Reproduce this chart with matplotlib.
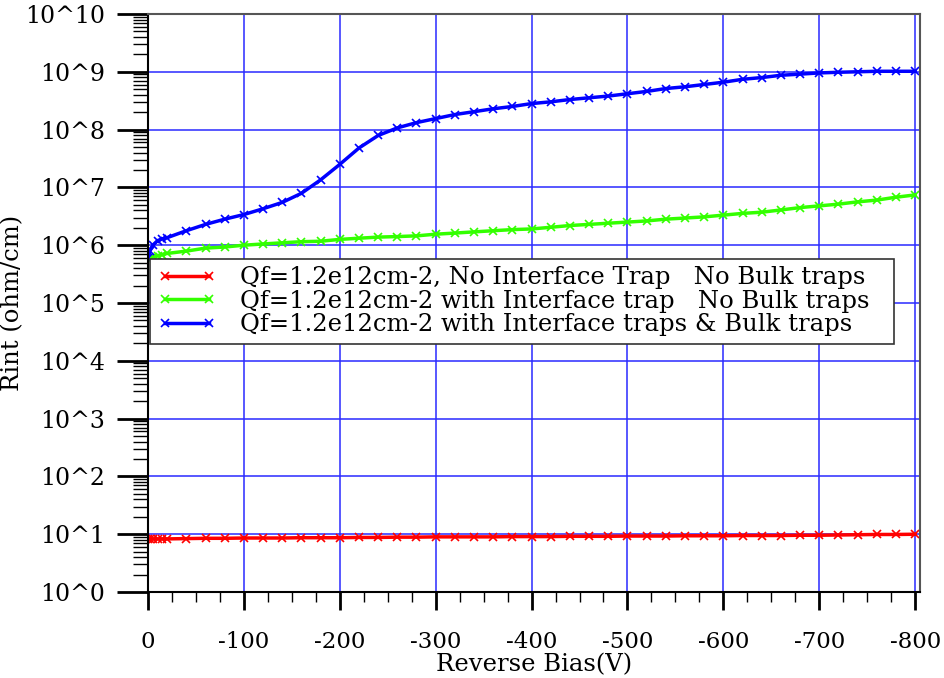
import matplotlib
matplotlib.use("Agg")
import matplotlib.pyplot as plt
from matplotlib.ticker import FixedLocator, MultipleLocator, LogLocator, NullFormatter

# reverse bias (V)
bias = [0, -2, -5, -10, -15, -20, -40, -60, -80, -100, -120, -140, -160, -180, -200,
        -220, -240, -260, -280, -300, -320, -340, -360, -380, -400, -420, -440, -460,
        -480, -500, -520, -540, -560, -580, -600, -620, -640, -660, -680, -700, -720,
        -740, -760, -780, -800]

# Rint (ohm/cm)
rint_no_traps = [8.2, 8.2, 8.3, 8.3, 8.3, 8.3, 8.4, 8.5, 8.5, 8.6, 8.6, 8.6, 8.7, 8.7, 8.7,
                 8.8, 8.8, 8.9, 8.9, 9.0, 9.0, 9.0, 9.0, 9.1, 9.1, 9.1, 9.2, 9.2, 9.2, 9.3,
                 9.3, 9.3, 9.4, 9.4, 9.4, 9.5, 9.5, 9.5, 9.6, 9.6, 9.7, 9.8, 9.9, 9.9, 10.0]
rint_interface = [5.75e5, 6.0e5, 6.3e5, 6.6e5, 6.9e5, 7.2e5, 7.9e5, 8.9e5, 9.3e5, 1.0e6,
                  1.05e6, 1.10e6, 1.15e6, 1.17e6, 1.26e6, 1.32e6, 1.38e6, 1.41e6, 1.45e6,
                  1.55e6, 1.62e6, 1.70e6, 1.78e6, 1.86e6, 1.91e6, 2.04e6, 2.19e6, 2.29e6,
                  2.40e6, 2.51e6, 2.63e6, 2.82e6, 2.95e6, 3.09e6, 3.31e6, 3.55e6, 3.72e6,
                  4.07e6, 4.47e6, 4.79e6, 5.13e6, 5.62e6, 6.03e6, 6.76e6, 7.41e6]
rint_bulk = [6.0e5, 7.9e5, 1.0e6, 1.2e6, 1.29e6, 1.35e6, 1.78e6, 2.29e6, 2.82e6, 3.39e6,
             4.27e6, 5.5e6, 7.9e6, 1.35e7, 2.5e7, 4.8e7, 7.9e7, 1.07e8, 1.32e8, 1.55e8,
             1.82e8, 2.04e8, 2.29e8, 2.51e8, 2.82e8, 3.02e8, 3.31e8, 3.55e8, 3.80e8,
             4.17e8, 4.57e8, 5.13e8, 5.5e8, 6.03e8, 6.6e8, 7.41e8, 7.94e8, 8.7e8, 9.1e8,
             9.55e8, 9.8e8, 1.0e9, 1.02e9, 1.02e9, 1.02e9]

LABELS = [
    "Qf=1.2e12cm-2, No Interface Trap   No Bulk traps",
    "Qf=1.2e12cm-2 with Interface trap   No Bulk traps",
    "Qf=1.2e12cm-2 with Interface traps & Bulk traps",
]
COLOURS = ["#ff0000", "#33ff00", "#0000ff"]

plt.rcParams["font.family"] = ["DejaVu Serif"]

fig = plt.figure(figsize=(9.45, 6.78), dpi=100)
ax = fig.add_axes([0.1566, 0.1268, 0.8169, 0.8526])

for ys, lab, c in zip([rint_no_traps, rint_interface, rint_bulk], LABELS, COLOURS):
    ax.plot(bias, ys, color=c, lw=2.5, marker="x", ms=6, mew=1.2, label=lab)

ax.set_yscale("log")
ax.set_ylim(1, 1e10)
ax.set_xlim(0, -805)

ax.xaxis.set_minor_locator(MultipleLocator(25))
ax.set_xticks(range(0, -801, -100))
ax.set_xticklabels([str(v) for v in range(0, -801, -100)])

decades = list(range(0, 11))
ax.yaxis.set_major_locator(FixedLocator([10.0 ** d for d in decades]))
ax.set_yticklabels([f"10^{d}" for d in decades])
ax.yaxis.set_minor_locator(LogLocator(base=10, subs=range(2, 10), numticks=20))
ax.yaxis.set_minor_formatter(NullFormatter())

ax.grid(True, which="major", color="#2a2aff", lw=1.1)
ax.set_axisbelow(True)

ax.tick_params(axis="x", which="major", direction="out", length=13, width=2, pad=15, labelsize=16.5)
ax.tick_params(axis="x", which="minor", direction="out", length=7, width=1)
ax.tick_params(axis="y", which="major", direction="out", length=22, width=2, pad=9, labelsize=17)
ax.tick_params(axis="y", which="minor", direction="out", length=11, width=1)

for side in ["top", "right"]:
    ax.spines[side].set_color("#555555")
    ax.spines[side].set_linewidth(1.5)
ax.spines["bottom"].set_linewidth(1.5)
ax.spines["left"].set_linewidth(1.5)

ax.set_xlabel("Reverse Bias(V)", fontsize=17.5, labelpad=0)
ax.set_ylabel("Rint (ohm/cm)", fontsize=17.5)
ax.yaxis.set_label_coords(-0.160, 0.5)

leg = ax.legend(loc="upper left", bbox_to_anchor=(0.003, 0.424, 0.964, 0.152),
                mode="expand", borderaxespad=0,
                fontsize=17.5, frameon=True, fancybox=False, framealpha=1,
                edgecolor="#333333", handlelength=2.4, handletextpad=1.0,
                labelspacing=0.02, borderpad=0.3, numpoints=2)
leg.get_frame().set_linewidth(1.2)

fig.savefig("out.png", dpi=100)
